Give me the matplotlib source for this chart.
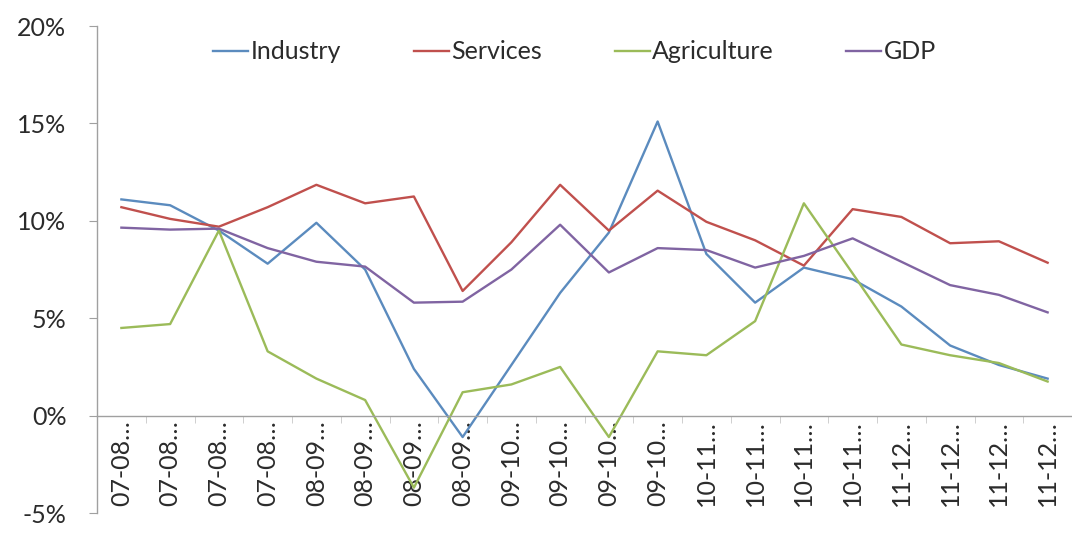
import numpy as np
import matplotlib.pyplot as plt
from matplotlib.ticker import FixedLocator, PercentFormatter

plt.rcParams['font.family'] = ['Lato', 'DejaVu Sans']
plt.rcParams['axes.unicode_minus'] = False

# categories (labels are truncated in the original chart)
quarters = ["07-08…"] * 4 + ["08-09…"] * 4 + ["09-10…"] * 4 + ["10-11…"] * 4 + ["11-12…"] * 4

industry = [11.1, 10.8, 9.5, 7.8, 9.9, 7.5, 2.4, -1.1, 2.6, 6.3,
            9.4, 15.1, 8.3, 5.8, 7.6, 7.0, 5.6, 3.6, 2.6, 1.9]
services = [10.7, 10.1, 9.7, 10.7, 11.85, 10.9, 11.25, 6.4, 8.9, 11.85,
            9.5, 11.55, 9.95, 9.0, 7.7, 10.6, 10.2, 8.85, 8.95, 7.85]
agriculture = [4.5, 4.7, 9.5, 3.3, 1.9, 0.8, -3.7, 1.2, 1.6, 2.5,
               -1.1, 3.3, 3.1, 4.85, 10.9, 7.3, 3.65, 3.1, 2.7, 1.75]
gdp = [9.65, 9.55, 9.6, 8.6, 7.9, 7.65, 5.8, 5.85, 7.5, 9.8,
       7.35, 8.6, 8.5, 7.6, 8.2, 9.1, 7.9, 6.7, 6.2, 5.3]

series_names = ["Industry", "Services", "Agriculture", "GDP"]
series_colors = ["#5B8BBE", "#C0504D", "#9BBB59", "#8064A2"]

fig = plt.figure(figsize=(10.72, 5.45), dpi=100)
ax = fig.add_axes([0.0905, 0.0587, 0.9095, 0.8935])

x = np.arange(len(quarters))
for name, vals, col in zip(series_names, [industry, services, agriculture, gdp], series_colors):
    ax.plot(x, vals, color=col, linewidth=1.7, label=name)

ax.set_xlim(-0.5, len(quarters) - 0.5)
ax.set_ylim(-5, 20)
ax.set_yticks([-5, 0, 5, 10, 15, 20])
ax.yaxis.set_major_formatter(PercentFormatter(decimals=0))

# category axis sits on the 0% line
ax.spines['bottom'].set_position(('data', 0))
for s in ['top', 'right']:
    ax.spines[s].set_visible(False)
for s in ['bottom', 'left']:
    ax.spines[s].set_color('#A0A0A0')
    ax.spines[s].set_linewidth(1.0)

ax.set_xticks(x)
ax.set_xticklabels(quarters, rotation=90, fontsize=18, color='#2B2B2B')
ax.xaxis.set_minor_locator(FixedLocator(np.arange(len(quarters) + 1) - 0.5))
ax.tick_params(axis='x', which='major', length=0, pad=3)
ax.tick_params(axis='x', which='minor', length=5, color='#C8C8C8', direction='out')
for lbl in ax.get_xticklabels():
    lbl.set_verticalalignment('top')

ax.tick_params(axis='y', length=6, color='#A0A0A0', pad=16, labelsize=18, labelcolor='#2B2B2B')

ax.legend(loc='center', bbox_to_anchor=(0.49, 0.947), ncol=4, frameon=False,
          fontsize=18, handlelength=1.4, handletextpad=0.1, columnspacing=2.9,
          labelcolor='#2B2B2B')

fig.savefig("out.png", dpi=100)
